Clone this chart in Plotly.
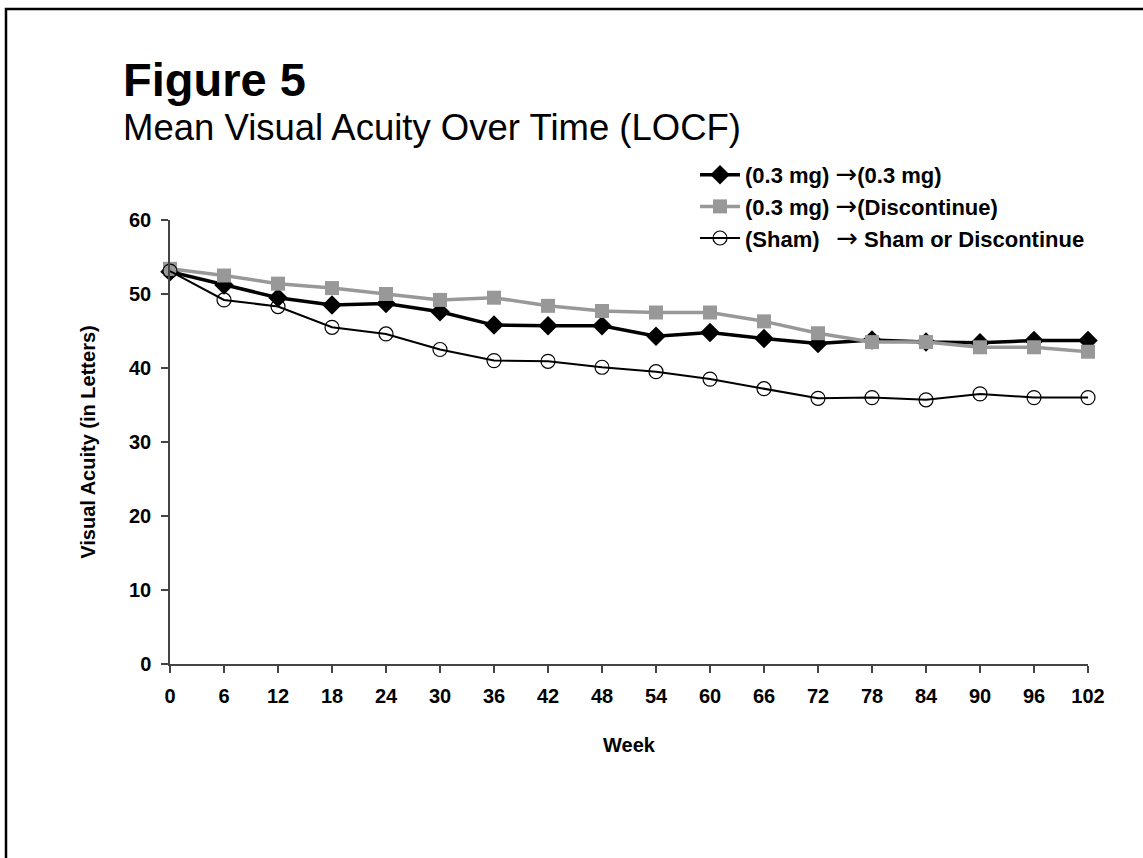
import plotly.graph_objects as go

weeks = [0, 6, 12, 18, 24, 30, 36, 42, 48, 54, 60, 66, 72, 78, 84, 90, 96, 102]
va_03_03 = [53.0, 51.2, 49.5, 48.5, 48.7, 47.6, 45.8, 45.7, 45.7, 44.3, 44.8, 44.0, 43.3, 43.8, 43.5, 43.4, 43.7, 43.7]
va_03_disc = [53.4, 52.5, 51.4, 50.8, 50.0, 49.2, 49.5, 48.4, 47.7, 47.5, 47.5, 46.3, 44.7, 43.5, 43.5, 42.8, 42.8, 42.2]
va_sham = [53.1, 49.2, 48.3, 45.5, 44.6, 42.5, 41.0, 40.9, 40.1, 39.5, 38.5, 37.2, 35.9, 36.0, 35.7, 36.5, 36.0, 36.0]

ARROW = "<span style='font-family:DejaVu Sans;font-weight:normal;font-size:26px'>\u2192</span>"
names = ["(0.3 mg) " + ARROW + "(0.3 mg)",
         "(0.3 mg) " + ARROW + "(Discontinue)",
         "(Sham)  \u2009" + ARROW + " Sham or Discontinue"]
x_ticks = list(range(0, 103, 6))
y_ticks = [0, 10, 20, 30, 40, 50, 60]

FONT = "Liberation Sans, Arial, sans-serif"
GRAY = "#989898"

fig = go.Figure()
fig.add_trace(go.Scatter(
    x=weeks, y=va_03_03, name=names[0], mode="lines+markers", legendgroup="a", legendrank=1,
    line=dict(color="black", width=3.5),
    marker=dict(symbol="diamond", size=15, color="black"), cliponaxis=False))
fig.add_trace(go.Scatter(
    x=weeks, y=va_03_disc, name=names[1], mode="lines+markers", legendgroup="b", legendrank=2,
    line=dict(color=GRAY, width=3.5),
    marker=dict(symbol="square", size=14, color=GRAY), cliponaxis=False))
fig.add_trace(go.Scatter(
    x=weeks, y=va_sham, name=names[2], mode="lines+markers", legendgroup="c", legendrank=3,
    line=dict(color="black", width=2),
    marker=dict(symbol="circle-open", size=14, color="black", line=dict(width=1.2)), cliponaxis=False))

L, R, T, B = 170, 55, 220, 194
W, H = 1143, 858
pw, ph = W - L - R, H - T - B

def px(xp):
    return (xp - L) / pw

def py(yp):
    return (H - B - yp) / ph

fig.update_layout(
    width=W, height=H,
    margin=dict(l=L, r=R, t=T, b=B),
    paper_bgcolor="white", plot_bgcolor="white",
    font=dict(family=FONT, color="black"),
    showlegend=True,
    legend=dict(
        x=px(695), y=py(154), xanchor="left", yanchor="top",
        font=dict(family=FONT, size=22, color="black", weight="bold"),
        traceorder="grouped", tracegroupgap=0,
        bgcolor="rgba(0,0,0,0)", itemwidth=40,
    ),
    xaxis=dict(
        range=[0, 102], tickmode="array", tickvals=x_ticks, ticktext=[str(v) for v in x_ticks],
        showline=True, linecolor="#444", linewidth=1.5,
        ticks="outside", ticklen=7, tickcolor="#444", tickwidth=1.5,
        showgrid=False, zeroline=False, ticklabelstandoff=6,
        tickfont=dict(family=FONT, size=20, weight="bold"),
        title=dict(text="Week", font=dict(family=FONT, size=20, weight="bold"), standoff=32),
    ),
    yaxis=dict(
        range=[0, 60], tickmode="array", tickvals=y_ticks, ticktext=[str(v) for v in y_ticks],
        showline=True, linecolor="#444", linewidth=1.5,
        ticks="outside", ticklen=7, tickcolor="#444", tickwidth=1.5,
        showgrid=False, zeroline=False, ticklabelstandoff=6,
        tickfont=dict(family=FONT, size=20, weight="bold"),
        title=dict(text="Visual Acuity (in Letters)", font=dict(family=FONT, size=20, weight="bold"), standoff=28),
    ),
    annotations=[
        dict(text="<b>Figure 5</b>", x=px(121), y=py(79), xref="paper", yref="paper",
             xanchor="left", yanchor="middle", showarrow=False,
             font=dict(family=FONT, size=47, color="black")),
        dict(text="Mean Visual Acuity Over Time (LOCF)", x=px(121), y=py(128), xref="paper", yref="paper",
             xanchor="left", yanchor="middle", showarrow=False,
             font=dict(family=FONT, size=36.5, color="black")),
    ],
    shapes=[
        dict(type="rect", xref="paper", yref="paper",
             x0=px(6), x1=px(1200), y0=py(900), y1=py(9),
             line=dict(color="black", width=2.5), fillcolor="rgba(0,0,0,0)", layer="below"),
    ],
)

fig.write_html("out.html")
